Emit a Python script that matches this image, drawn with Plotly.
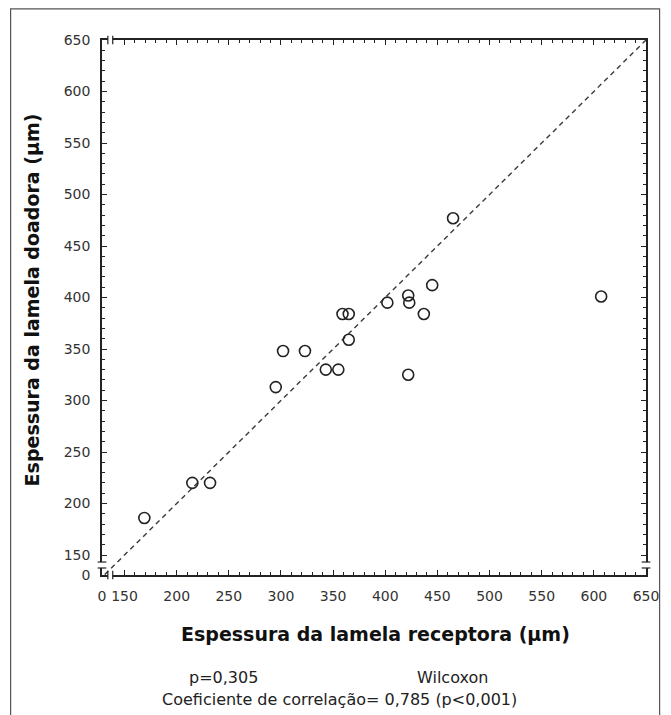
import plotly.graph_objects as go

# Data (receptora = x, doadora = y), in µm
receptora = [169, 215, 232, 295, 302, 323, 343, 355, 365, 359, 365, 402, 422, 423, 437, 445, 422, 465, 607]
doadora   = [186, 220, 220, 313, 348, 348, 330, 330, 359, 384, 384, 395, 402, 395, 384, 412, 325, 477, 401]

# identity line y = x
diag = [131, 650]

# axis settings (broken axes: 0 shown just below 150)
x_zero_pos = 128.4
y_zero_pos = 130.6
major = [150, 200, 250, 300, 350, 400, 450, 500, 550, 600, 650]
minor = [160, 170, 180, 190, 210, 220, 230, 240, 260, 270, 280, 290, 310, 320, 330, 340,
         360, 370, 380, 390, 410, 420, 430, 440, 460, 470, 480, 490, 510, 520, 530, 540,
         560, 570, 580, 590, 610, 620, 630, 640]

FONT = "DejaVu Sans, Verdana, sans-serif"

fig = go.Figure()
fig.add_trace(go.Scatter(x=diag, y=diag, mode="lines",
                         line=dict(color="#3a3a3a", width=1.4, dash="5px,4px"),
                         hoverinfo="skip", showlegend=False))
fig.add_trace(go.Scatter(x=receptora, y=doadora, mode="markers",
                         marker=dict(symbol="circle-open", size=11,
                                     color="#222222", line=dict(width=1.6, color="#222222")),
                         showlegend=False))

axis_common = dict(
    showline=True, linecolor="#222222", linewidth=1.5, mirror="ticks",
    ticks="inside", ticklen=5, tickwidth=1.3, tickcolor="#222222",
    showgrid=False, zeroline=False, ticklabelstandoff=7,
    tickfont=dict(family=FONT, size=14, color="#333333"),
    minor=dict(tickmode="array", tickvals=minor, ticks="inside", ticklen=3,
               tickwidth=1.1, tickcolor="#222222", showgrid=False),
)

fig.update_xaxes(range=[x_zero_pos, 650], tickmode="array",
                 tickvals=[x_zero_pos] + major, ticktext=["0"] + [str(v) for v in major],
                 **axis_common)
fig.update_yaxes(range=[y_zero_pos, 650], tickmode="array",
                 tickvals=[y_zero_pos] + major, ticktext=["0"] + [str(v) for v in major],
                 **axis_common)

shapes = []
# x-axis breaks (bottom and top)
xb0, xb1 = 134.0, 138.7
for yp in (0, 1):
    shapes.append(dict(type="line", xref="x", yref="paper", x0=xb0, x1=xb1, y0=yp, y1=yp,
                       line=dict(color="white", width=4), layer="above"))
    for xvb in (xb0, xb1):
        shapes.append(dict(type="line", xref="x", yref="paper", x0=xvb, x1=xvb,
                           y0=yp - 0.008, y1=yp + 0.008,
                           line=dict(color="#222222", width=1.2), layer="above"))
# y-axis breaks (left and right)
yb0, yb1 = 137.4, 143.2
for xp in (0, 1):
    shapes.append(dict(type="line", xref="paper", yref="y", x0=xp, x1=xp, y0=yb0, y1=yb1,
                       line=dict(color="white", width=4), layer="above"))
    for yvb in (yb0, yb1):
        shapes.append(dict(type="line", xref="paper", yref="y", x0=xp - 0.008, x1=xp + 0.008,
                           y0=yvb, y1=yvb,
                           line=dict(color="#222222", width=1.2), layer="above"))
# outer frame
shapes.append(dict(type="rect", xref="paper", yref="paper", x0=-0.168, x1=1.025, y0=-0.27, y1=1.058,
                   line=dict(color="#555555", width=1.2), layer="below"))

title_font = dict(family=FONT, size=19, color="#111111")
note_font = dict(family=FONT, size=16, color="#222222")
annotations = [
    dict(text="<b>Espessura da lamela receptora (µm)</b>", xref="paper", yref="paper",
         x=0.5027, y=-0.110, showarrow=False, font=title_font, xanchor="center", yanchor="middle"),
    dict(text="<b>Espessura da lamela doadora (µm)</b>", xref="paper", yref="paper",
         x=-0.128, y=0.514, showarrow=False, font=title_font, textangle=-90,
         xanchor="center", yanchor="middle"),
    dict(text="p=0,305", xref="paper", yref="paper", x=0.2242, y=-0.1925, showarrow=False,
         font=note_font, xanchor="center", yanchor="middle"),
    dict(text="Wilcoxon", xref="paper", yref="paper", x=0.6438, y=-0.1925, showarrow=False,
         font=note_font, xanchor="center", yanchor="middle"),
    dict(text="Coeficiente de correlação= 0,785 (p<0,001)", xref="paper", yref="paper",
         x=0.4358, y=-0.2336, showarrow=False, font=note_font, xanchor="center", yanchor="middle"),
]

fig.update_layout(
    width=671, height=715,
    margin=dict(l=102, r=16, t=40, b=140),
    plot_bgcolor="white", paper_bgcolor="white",
    shapes=shapes, annotations=annotations,
)

fig.write_html("out.html")
